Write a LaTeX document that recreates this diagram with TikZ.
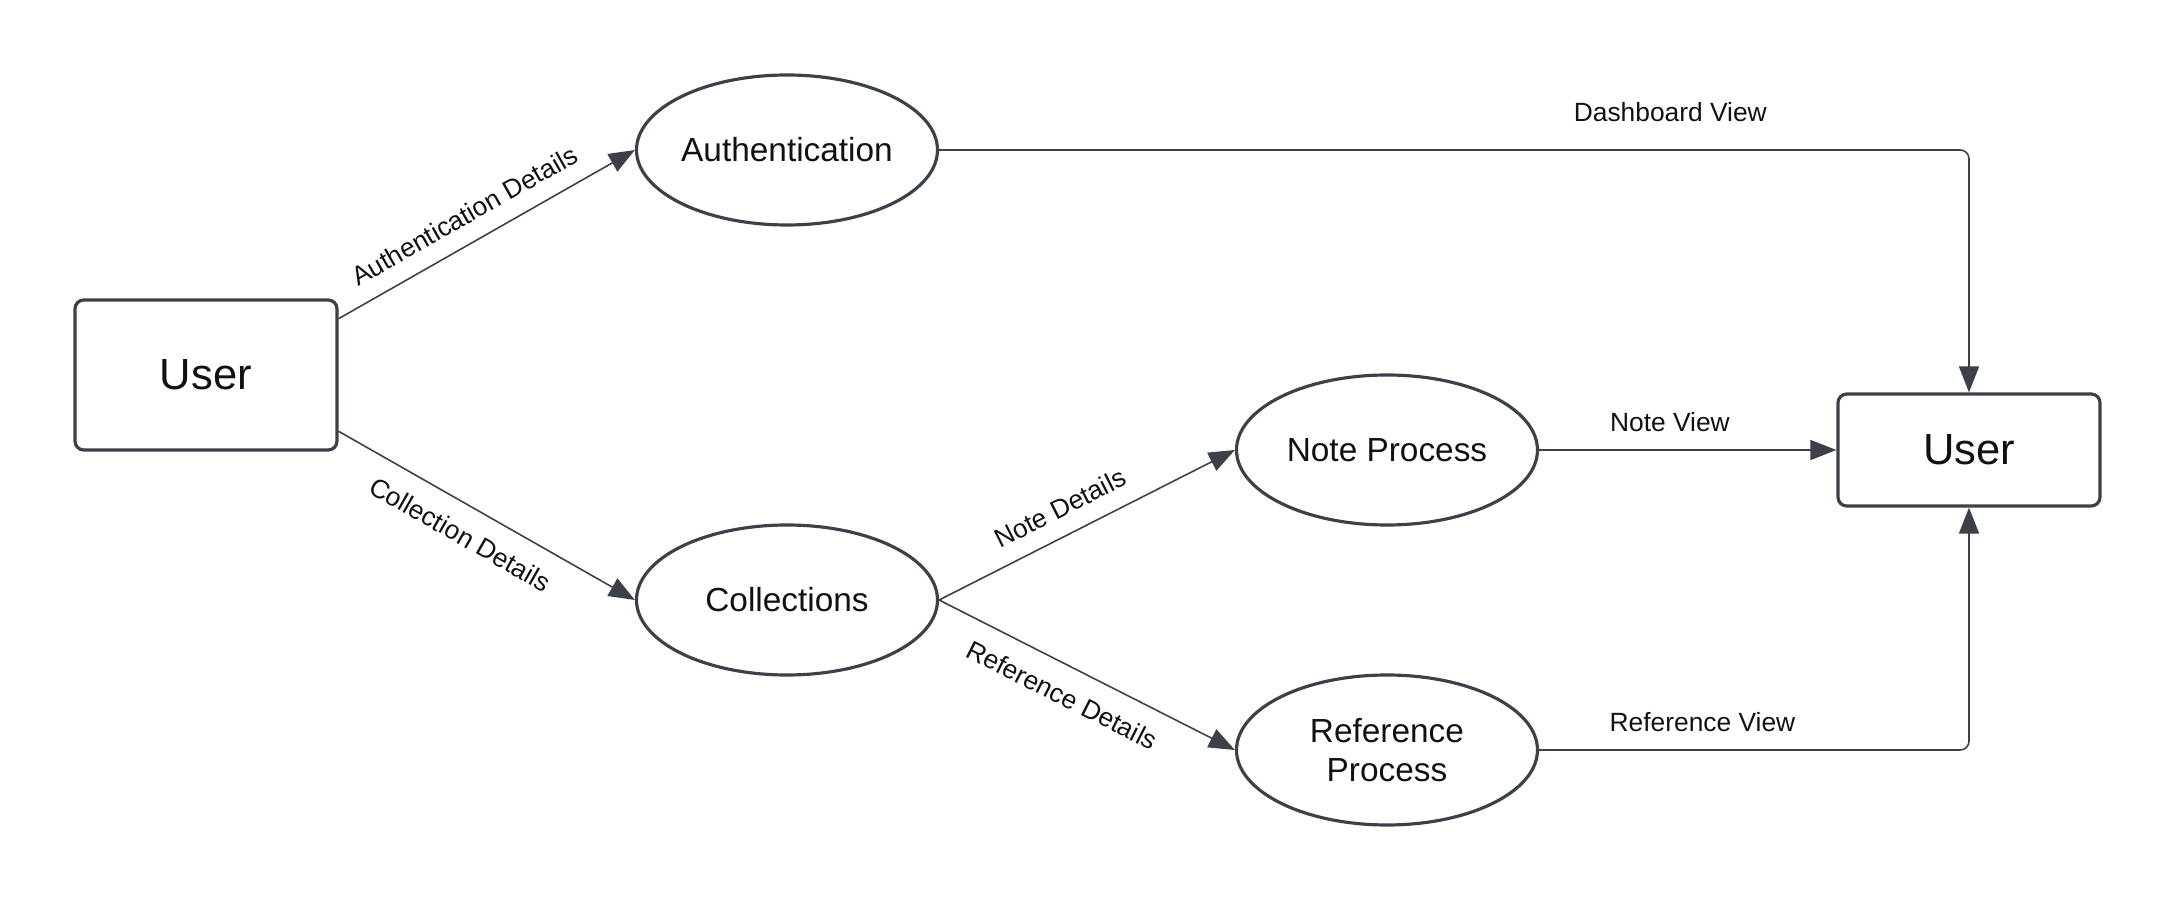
\documentclass[tikz,border=0pt]{standalone}
\usepackage{fontspec}
\setmainfont{Liberation Sans}
\usepackage{xcolor}
\usetikzlibrary{shapes.geometric,arrows.meta}
\definecolor{ink}{HTML}{3B4049}
\definecolor{txt}{HTML}{111111}
\tikzset{
  ent/.style={draw=ink, line width=0.9pt, rounded corners=2.5pt, minimum width=2.62cm, text=txt, font=\fontsize{12.4}{14}\selectfont},
  proc/.style={ellipse, draw=ink, line width=0.9pt, minimum width=3.01cm, minimum height=1.5cm, inner sep=0pt, text=txt, align=center, font=\fontsize{9.5}{11}\selectfont},
  flow/.style={draw=ink, line width=0.45pt, rounded corners=2.5pt, -{Triangle[length=2.6mm,width=2mm]}},
  lab/.style={text=txt, font=\fontsize{7.5}{9}\selectfont},
}

\begin{document}
\begin{tikzpicture}
  \useasboundingbox (0,0) rectangle (21.75,9);
  \node[ent, minimum height=1.5cm] (userIn) at (2.06,5.25) {User};
  \node[proc] (auth) at (7.87,7.5) {Authentication};
  \node[proc] (coll) at (7.87,3.0) {Collections};
  \node[proc] (note) at (13.87,4.5) {Note Process};
  \node[proc] (refp) at (13.87,1.5) {Reference\\Process};
  \node[ent, minimum height=1.12cm] (userOut) at (19.69,4.5) {User};
  \draw[flow] (userIn.23) -- node[lab, sloped, above=1.5pt, pos=0.47] {Authentication Details} (auth.west);
  \draw[flow] (userIn.-23) -- node[lab, sloped, below=2pt, pos=0.46] {Collection Details} (coll.west);
  \draw[flow] (coll.east) -- node[lab, sloped, above=1.5pt, pos=0.45] {Note Details} (note.west);
  \draw[flow] (coll.east) -- node[lab, sloped, below=2pt, pos=0.46] {Reference Details} (refp.west);
  \draw[flow] (auth.east) -| node[lab, above=4.5pt, pos=0.355] {Dashboard View} (userOut.north);
  \draw[flow] (note.east) -- node[lab, above=1.5pt, pos=0.44] {Note View} (userOut.west);
  \draw[flow] (refp.east) -| node[lab, above=1.5pt, pos=0.19] {Reference View} (userOut.south);
\end{tikzpicture}
\end{document}
